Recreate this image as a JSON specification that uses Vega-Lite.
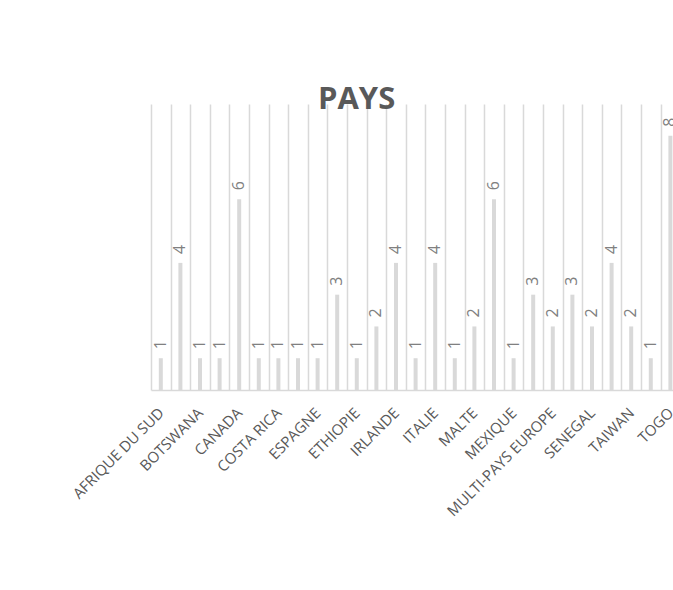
{
  "$schema": "https://vega.github.io/schema/vega-lite/v6.json",
  "width": 529.2,
  "height": 286,
  "autosize": {"type": "none"},
  "padding": {"left": 151, "top": 104, "right": 0, "bottom": 200},
  "background": "white",
  "title": {"text": "PAYS", "font": "Open Sans", "fontSize": 31, "fontWeight": "bold", "color": "#595959", "anchor": "middle", "dx": -59, "dy": 30, "offset": -6, "baseline": "alphabetic"},
  "data": {"values": [
    {"pays": "AFRIQUE DU SUD", "n": 1},
    {"pays": "BELGIQUE", "n": 4},
    {"pays": "BOTSWANA", "n": 1},
    {"pays": "BURKINA FASO", "n": 1},
    {"pays": "CANADA", "n": 6},
    {"pays": "CHINE", "n": 1},
    {"pays": "COSTA RICA", "n": 1},
    {"pays": "COTE D'IVOIRE", "n": 1},
    {"pays": "ESPAGNE", "n": 1},
    {"pays": "ETATS-UNIS", "n": 3},
    {"pays": "ETHIOPIE", "n": 1},
    {"pays": "FRANCE", "n": 2},
    {"pays": "IRLANDE", "n": 4},
    {"pays": "ISRAEL", "n": 1},
    {"pays": "ITALIE", "n": 4},
    {"pays": "JAPON", "n": 1},
    {"pays": "MALTE", "n": 2},
    {"pays": "MAROC", "n": 6},
    {"pays": "MEXIQUE", "n": 1},
    {"pays": "MULTI-PAYS AFRIQUE", "n": 3},
    {"pays": "MULTI-PAYS EUROPE", "n": 2},
    {"pays": "ROYAUME-UNI", "n": 3},
    {"pays": "SENEGAL", "n": 2},
    {"pays": "SUISSE", "n": 4},
    {"pays": "TAIWAN", "n": 2},
    {"pays": "TANZANIE", "n": 1},
    {"pays": "TOGO", "n": 8}
  ]},
  "encoding": {
    "x": {
      "field": "pays", "type": "nominal", "sort": null,
      "scale": {"paddingInner": 0, "paddingOuter": 0},
      "axis": {
        "title": null, "grid": true, "tickBand": "extent", "gridColor": "#d9d9d9", "gridWidth": 1.5,
        "ticks": false, "domainColor": "#d9d9d9", "domainWidth": 1.5,
        "labelAngle": -45, "labelAlign": "right", "labelBaseline": "middle",
        "labelFont": "Open Sans", "labelFontSize": 15, "labelColor": "#595959", "labelPadding": 20,
        "labelOverlap": false,
        "labelExpr": "indexof(['AFRIQUE DU SUD','BOTSWANA','CANADA','COSTA RICA','ESPAGNE','ETHIOPIE','IRLANDE','ITALIE','MALTE','MEXIQUE','MULTI-PAYS EUROPE','SENEGAL','TAIWAN','TOGO'], datum.value) >= 0 ? datum.value : ''"
      }
    },
    "y": {"field": "n", "type": "quantitative", "scale": {"domain": [0, 9]}, "axis": null}
  },
  "layer": [
    {"mark": {"type": "bar", "size": 4, "color": "#d9d9d9"}},
    {"mark": {"type": "text", "angle": 270, "align": "left", "baseline": "middle", "dx": 9, "font": "Open Sans", "fontSize": 16, "color": "#808080"},
     "encoding": {"text": {"field": "n", "type": "quantitative"}}}
  ],
  "config": {"view": {"stroke": null}}
}
